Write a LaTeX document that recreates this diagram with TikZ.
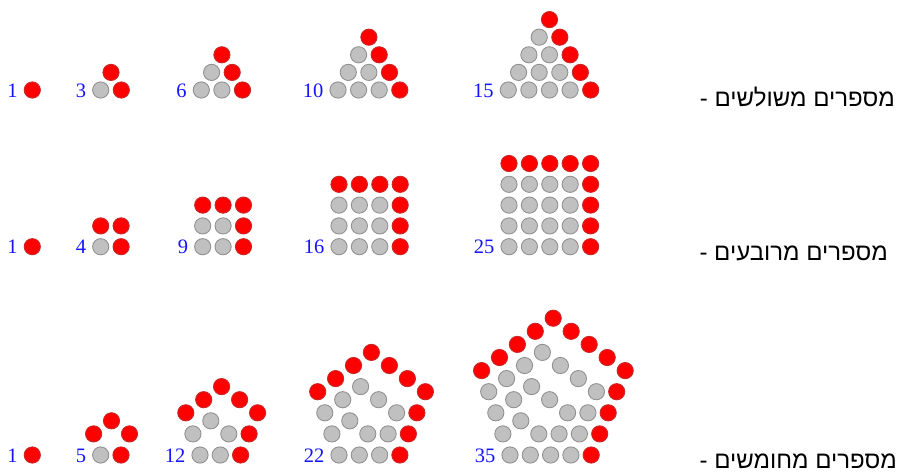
\documentclass[tikz,border=0pt]{standalone}
\usepackage{fontspec}
\setmainfont{Liberation Serif}
\newfontfamily\hebfont[Script=Hebrew]{Liberation Sans}
\TeXXeTstate=1
\definecolor{ballred}{RGB}{255,0,0}
\definecolor{ballredline}{RGB}{200,40,40}
\definecolor{ballgray}{RGB}{192,192,192}
\definecolor{ballgrayline}{RGB}{145,145,145}
\definecolor{numblue}{RGB}{20,20,255}
\begin{document}
\begin{tikzpicture}[x=1pt,y=-1pt]
\tikzset{
  ball/.style={circle,inner sep=0pt,minimum size=16.2pt,line width=0.9pt},
  redball/.style={ball,fill=ballred,draw=ballredline},
  grayball/.style={ball,fill=ballgray,draw=ballgrayline},
  numlabel/.style={anchor=base east,text=numblue,font=\fontsize{20.5}{21}\selectfont,inner sep=0pt},
  heblabel/.style={anchor=base east,font=\hebfont\fontsize{24}{26}\selectfont,inner sep=0pt}
}
\useasboundingbox (0,0) rectangle (898,472);

% ---------- triangular numbers ----------
\foreach \n/\ox/\lab in {1/32.3/1,2/100.7/3,3/201.3/6,4/338/10,5/508.3/15}{
  \pgfmathtruncatemacro\m{\n-1}
  \foreach \i in {0,...,\m}{
    \pgfmathtruncatemacro\jm{\m-\i}
    \foreach \j in {0,...,\jm}{
      \pgfmathtruncatemacro\s{\i+\j}
      \ifnum\s=\m \tikzset{cur/.style={redball}}\else\tikzset{cur/.style={grayball}}\fi
      \node[cur] (t\n-\i-\j) at ({\ox+\i*20.6+\j*10.3},{90-\j*17.6}) {};
    }
  }
  \node[numlabel] (tl\n) at ({\ox-14.5},97.4) {\lab};
}

% ---------- square numbers ----------
\foreach \n/\ox/\lab in {1/32.3/1,2/100.7/4,3/202.7/9,4/339/16,5/509/25}{
  \pgfmathtruncatemacro\m{\n-1}
  \foreach \i in {0,...,\m}{
    \foreach \j in {0,...,\m}{
      \pgfmathtruncatemacro\r{(\i==\m)||(\j==\m)}
      \ifnum\r=1 \tikzset{cur/.style={redball}}\else\tikzset{cur/.style={grayball}}\fi
      \node[cur] (s\n-\i-\j) at ({\ox+\i*20.4},{246.7-\j*20.8}) {};
    }
  }
  \node[numlabel] (sl\n) at ({\ox-14.5},253.7) {\lab};
}

% ---------- pentagonal numbers ----------
\foreach \n/\ox/\lab in {1/32.3/1,2/100.7/5,3/200/12,4/339/22,5/510/35}{
  \pgfmathtruncatemacro\m{\n-1}
  \ifnum\m=0 \tikzset{cur/.style={redball}}\else\tikzset{cur/.style={grayball}}\fi
  \node[cur] (p\n-0) at (\ox,455) {};
  \ifnum\m>0
    \foreach \k in {1,...,\m}{
      \ifnum\k=\m \tikzset{cur/.style={redball}}\else\tikzset{cur/.style={grayball}}\fi
      \pgfmathtruncatemacro\km{\k-1}
      \foreach \sd/\ax/\ay/\bx/\by in {1/20.3/0/28.8/-21.1,2/28.8/-21.1/10.8/-34.2,3/10.8/-34.2/-7.1/-21.1}{
        \foreach \t in {0,...,\km}{
          \node[cur] (p\n-\k-\sd-\t) at ({\ox+\k*(\ax)+\t*((\bx)-(\ax))},{455+\k*(\ay)+\t*((\by)-(\ay))}) {};
        }
      }
      \node[cur] (p\n-\k-end) at ({\ox+\k*(-7.1)},{455+\k*(-21.1)}) {};
    }
  \fi
  \node[numlabel] (pl\n) at ({\ox-14.5},462) {\lab};
}

% ---------- Hebrew captions ----------
\node[heblabel] (cap1) at (895,106.5) {\beginR מספרים משולשים -\endR};
\node[heblabel] (cap2) at (888,260) {\beginR מספרים מרובעים -\endR};
\node[heblabel] (cap3) at (897,468.5) {\beginR מספרים מחומשים -\endR};
\end{tikzpicture}
\end{document}
